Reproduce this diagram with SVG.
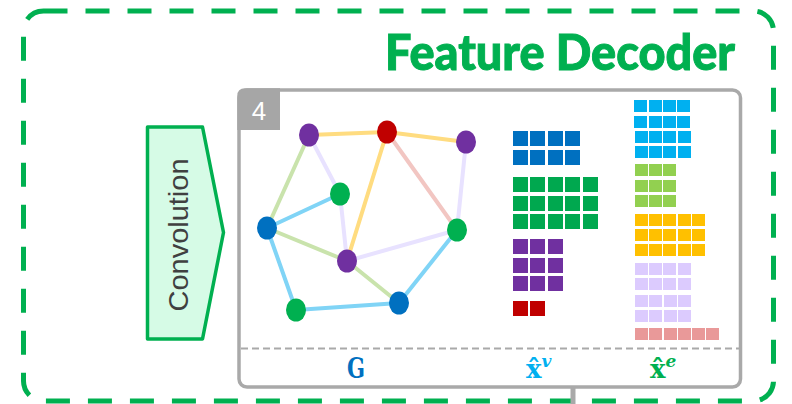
<svg xmlns="http://www.w3.org/2000/svg" width="792" height="404" viewBox="0 0 792 404">
  <style>
    .frame { fill: none; stroke: #00B050; stroke-width: 5; stroke-dasharray: 24 18; }
    .title { font-family: Lato, "Open Sans", "Liberation Sans", sans-serif; font-weight: 900; fill: #00B050; stroke: #00B050; stroke-width: 1; }
    .conv { fill: #D6FBE6; stroke: #00B050; stroke-width: 3.5; stroke-linejoin: round; }
    .conv-label { font-family: "Liberation Sans", Arial, sans-serif; font-size: 28px; fill: #404040; }
    .panel { fill: #FFFFFF; stroke: #A9A9A9; stroke-width: 3.5; }
    .tab { fill: #A6A6A6; }
    .tab-label { font-family: "Liberation Sans", Arial, sans-serif; font-size: 26px; fill: #FFFFFF; }
    .divider { stroke: #A9A9A9; stroke-width: 2; stroke-dasharray: 7 4; }
    .stub { stroke: #A9A9A9; stroke-width: 5; }
    .edge { stroke-width: 4; stroke-linecap: round; fill: none; }
    .e-yel { stroke: #FFDC80; }
    .e-lav { stroke: #E8E2FF; }
    .e-grn { stroke: #C9E3AC; }
    .e-blu { stroke: #80D4F6; }
    .e-pnk { stroke: #F2C6C2; }
    .n-pur { fill: #7030A0; }
    .n-red { fill: #C00000; }
    .n-grn { fill: #00B050; }
    .n-blu { fill: #0070C0; }
    .math { font-family: "DejaVu Serif", "Liberation Serif", serif; font-weight: bold; }
  </style>
  <defs>
    <rect id="cl" width="15" height="15"/>
    <rect id="cr" width="13" height="12"/>
  </defs>

  <!-- outer dashed frame -->
  <rect class="frame" x="23.5" y="11" width="750" height="390" rx="20"/>
  <text class="title" x="385" y="70" font-size="50" textLength="350" lengthAdjust="spacingAndGlyphs">Feature Decoder</text>

  <!-- convolution block -->
  <g id="convolution">
    <path class="conv" d="M147.5,127 L202.5,127 L223.5,232.5 L202.5,339 L147.5,339 Z"/>
    <text class="conv-label" transform="translate(188,235) rotate(-90)" text-anchor="middle" textLength="153" lengthAdjust="spacingAndGlyphs">Convolution</text>
  </g>

  <!-- decoder panel -->
  <g id="panel">
    <rect class="panel" x="239" y="90" width="501.5" height="297" rx="8"/>
    <path class="tab" d="M237.3,130 L237.3,96 Q237.3,88.3 245,88.3 L280,88.3 L280,130 Z"/>
    <text class="tab-label" x="259" y="120" text-anchor="middle">4</text>
    <line class="divider" x1="241" y1="348.5" x2="739" y2="348.5"/>
  </g>

  <!-- graph edges -->
  <g id="connectors">
    <line class="edge e-yel" x1="309" y1="135" x2="387" y2="132"/>
    <line class="edge e-yel" x1="387" y1="132" x2="466" y2="142"/>
    <line class="edge e-yel" x1="387" y1="132" x2="347" y2="261"/>
    <line class="edge e-lav" x1="309" y1="135" x2="340" y2="194"/>
    <line class="edge e-lav" x1="340" y1="194" x2="347" y2="261"/>
    <line class="edge e-lav" x1="466" y1="142" x2="457" y2="230"/>
    <line class="edge e-lav" x1="347" y1="261" x2="457" y2="230"/>
    <line class="edge e-pnk" x1="387" y1="132" x2="457" y2="230"/>
    <line class="edge e-grn" x1="309" y1="135" x2="267" y2="228"/>
    <line class="edge e-grn" x1="267" y1="228" x2="347" y2="261"/>
    <line class="edge e-grn" x1="347" y1="261" x2="399" y2="303"/>
    <line class="edge e-blu" x1="340" y1="194" x2="267" y2="228"/>
    <line class="edge e-blu" x1="267" y1="228" x2="296" y2="310"/>
    <line class="edge e-blu" x1="296" y1="310" x2="399" y2="303"/>
    <line class="edge e-blu" x1="457" y1="230" x2="399" y2="303"/>
    <line class="stub" x1="573" y1="388" x2="573" y2="404"/>
  </g>

  <!-- graph nodes -->
  <g id="node-p1"><ellipse class="n-pur" cx="309" cy="135" rx="10" ry="11.5"/></g>
  <g id="node-r"><ellipse class="n-red" cx="387" cy="132" rx="10" ry="11.5"/></g>
  <g id="node-p2"><ellipse class="n-pur" cx="466" cy="142" rx="10" ry="11.5"/></g>
  <g id="node-g1"><ellipse class="n-grn" cx="340" cy="194" rx="10" ry="11.5"/></g>
  <g id="node-b1"><ellipse class="n-blu" cx="267" cy="228" rx="10" ry="11.5"/></g>
  <g id="node-p3"><ellipse class="n-pur" cx="347" cy="261" rx="10" ry="11.5"/></g>
  <g id="node-g2"><ellipse class="n-grn" cx="457" cy="230" rx="10" ry="11.5"/></g>
  <g id="node-g3"><ellipse class="n-grn" cx="296" cy="310" rx="10" ry="11.5"/></g>
  <g id="node-b2"><ellipse class="n-blu" cx="399" cy="303" rx="10" ry="11.5"/></g>

  <!-- node feature matrix -->
  <g id="node-features">
    <g fill="#0070C0">
      <use href="#cl" x="513" y="131"/><use href="#cl" x="530" y="131"/><use href="#cl" x="548" y="131"/><use href="#cl" x="565" y="131"/>
      <use href="#cl" x="513" y="150"/><use href="#cl" x="530" y="150"/><use href="#cl" x="548" y="150"/><use href="#cl" x="565" y="150"/>
    </g>
    <g fill="#00A84F">
      <use href="#cl" x="513" y="177"/><use href="#cl" x="530" y="177"/><use href="#cl" x="548" y="177"/><use href="#cl" x="565" y="177"/><use href="#cl" x="583" y="177"/>
      <use href="#cl" x="513" y="196"/><use href="#cl" x="530" y="196"/><use href="#cl" x="548" y="196"/><use href="#cl" x="565" y="196"/><use href="#cl" x="583" y="196"/>
      <use href="#cl" x="513" y="214"/><use href="#cl" x="530" y="214"/><use href="#cl" x="548" y="214"/><use href="#cl" x="565" y="214"/><use href="#cl" x="583" y="214"/>
    </g>
    <g fill="#7030A0">
      <use href="#cl" x="513" y="239"/><use href="#cl" x="530" y="239"/><use href="#cl" x="548" y="239"/>
      <use href="#cl" x="513" y="258"/><use href="#cl" x="530" y="258"/><use href="#cl" x="548" y="258"/>
      <use href="#cl" x="513" y="276"/><use href="#cl" x="530" y="276"/><use href="#cl" x="548" y="276"/>
    </g>
    <g fill="#C00000">
      <use href="#cl" x="513" y="301"/><use href="#cl" x="530" y="301"/>
    </g>
  </g>

  <!-- edge feature matrix -->
  <g id="edge-features">
    <g fill="#00B0F0">
      <use href="#cr" x="634" y="100"/><use href="#cr" x="649" y="100"/><use href="#cr" x="663" y="100"/><use href="#cr" x="677" y="100"/>
      <use href="#cr" x="634" y="116"/><use href="#cr" x="649" y="116"/><use href="#cr" x="663" y="116"/><use href="#cr" x="677" y="116"/>
      <use href="#cr" x="635" y="131"/><use href="#cr" x="649" y="131"/><use href="#cr" x="663" y="131"/><use href="#cr" x="678" y="131"/>
      <use href="#cr" x="635" y="146"/><use href="#cr" x="649" y="146"/><use href="#cr" x="663" y="146"/><use href="#cr" x="678" y="146"/>
    </g>
    <g fill="#92D050">
      <use href="#cr" x="635" y="164"/><use href="#cr" x="649" y="164"/><use href="#cr" x="663" y="164"/>
      <use href="#cr" x="635" y="180"/><use href="#cr" x="649" y="180"/><use href="#cr" x="663" y="180"/>
      <use href="#cr" x="635" y="195"/><use href="#cr" x="649" y="195"/><use href="#cr" x="663" y="195"/>
    </g>
    <g fill="#FFC000">
      <use href="#cr" x="635" y="214"/><use href="#cr" x="649" y="214"/><use href="#cr" x="663" y="214"/><use href="#cr" x="678" y="214"/><use href="#cr" x="692" y="214"/>
      <use href="#cr" x="635" y="229"/><use href="#cr" x="649" y="229"/><use href="#cr" x="663" y="229"/><use href="#cr" x="678" y="229"/><use href="#cr" x="692" y="229"/>
      <use href="#cr" x="635" y="244"/><use href="#cr" x="649" y="244"/><use href="#cr" x="663" y="244"/><use href="#cr" x="678" y="244"/><use href="#cr" x="692" y="244"/>
    </g>
    <g fill="#DCCBFE">
      <use href="#cr" x="635" y="263"/><use href="#cr" x="649" y="263"/><use href="#cr" x="663" y="263"/><use href="#cr" x="678" y="263"/>
      <use href="#cr" x="635" y="278"/><use href="#cr" x="649" y="278"/><use href="#cr" x="663" y="278"/><use href="#cr" x="678" y="278"/>
      <use href="#cr" x="635" y="295"/><use href="#cr" x="649" y="295"/><use href="#cr" x="664" y="295"/><use href="#cr" x="678" y="295"/>
      <use href="#cr" x="635" y="310"/><use href="#cr" x="649" y="310"/><use href="#cr" x="664" y="310"/><use href="#cr" x="678" y="310"/>
    </g>
    <g fill="#E99999">
      <use href="#cr" x="635" y="328"/><use href="#cr" x="649" y="328"/><use href="#cr" x="664" y="328"/><use href="#cr" x="678" y="328"/><use href="#cr" x="692" y="328"/><use href="#cr" x="706" y="328"/>
    </g>
  </g>

  <!-- column labels -->
  <g id="labels">
    <text class="math" x="356" y="378" font-size="27" fill="#0070C0" text-anchor="middle" textLength="18" lengthAdjust="spacingAndGlyphs">G</text>
    <text class="math" x="526" y="378" font-size="26" fill="#00B0F0">x̂<tspan font-style="italic" font-size="17" dy="-11">v</tspan></text>
    <text class="math" x="650" y="378" font-size="26" fill="#00B050">x̂<tspan font-style="italic" font-size="17" dy="-11">e</tspan></text>
  </g>
</svg>
